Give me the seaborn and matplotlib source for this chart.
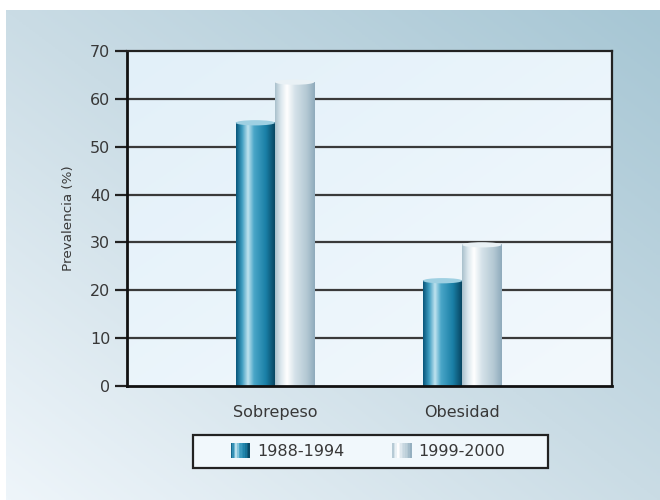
import numpy as np
import pandas as pd
import matplotlib
matplotlib.use("Agg")
import matplotlib.pyplot as plt
import seaborn as sns
from matplotlib.patches import Ellipse, Rectangle, Patch
from matplotlib.legend_handler import HandlerBase
from matplotlib.colors import LinearSegmentedColormap

# ---- data ----
categorias = ["Sobrepeso", "Obesidad"]
periodos = ["1988-1994", "1999-2000"]
valores_1988_1994 = [55.0, 22.0]
valores_1999_2000 = [63.5, 29.5]
y_ticks = [0, 10, 20, 30, 40, 50, 60, 70]
y_label = "Prevalencia (%)"

df = pd.DataFrame({
    "categoria": categorias * 2,
    "periodo": [periodos[0]] * 2 + [periodos[1]] * 2,
    "valor": valores_1988_1994 + valores_1999_2000,
})

sns.set_theme(style="white")
plt.rcParams["font.family"] = ["DejaVu Sans"]
txt = "#383838"

# cylinder colour maps (left -> right across bar)
cmap_dark = LinearSegmentedColormap.from_list("dk", [
    (0.0, "#07557a"), (0.15, "#3d9cc0"), (0.30, "#bfe3ef"), (0.45, "#4aa6c8"),
    (0.75, "#1a7fa6"), (1.0, "#063f5a")])
cmap_light = LinearSegmentedColormap.from_list("lt", [
    (0.0, "#a9c0cc"), (0.15, "#dce8ee"), (0.30, "#ffffff"), (0.50, "#d5e2e9"),
    (0.80, "#b3c8d3"), (1.0, "#8eaabb")])
cmaps = {periodos[0]: cmap_dark, periodos[1]: cmap_light}
tops = {periodos[0]: "#9fd0e2", periodos[1]: "#e9f1f5"}

fig = plt.figure(figsize=(6.6, 5.0), dpi=100)
fig.patch.set_facecolor("white")

# background panel gradient
bg = fig.add_axes([6 / 660, 0, 1 - 6 / 660, 1 - 10 / 500])
bg.set_axis_off()
xx, yy = np.meshgrid(np.linspace(0, 1, 200), np.linspace(0, 1, 200))
v = np.clip(0.5 * xx + 0.5 * (1 - yy), 0, 1)
bg_cmap = LinearSegmentedColormap.from_list("bg", ["#eef5fa", "#cadce5", "#a6c6d4"])
bg.imshow(v, cmap=bg_cmap, aspect="auto", extent=[0, 1, 0, 1], origin="upper")
bg.set_xlim(0, 1)
bg.set_ylim(0, 1)

ax = fig.add_axes([127 / 660, 114 / 500, 485 / 660, 335 / 500])
ax.set_facecolor("none")
pv = np.clip(0.5 * xx + 0.5 * yy, 0, 1)
face_cmap = LinearSegmentedColormap.from_list("fc", ["#e2f0f9", "#f3f9fd"])
ax.imshow(pv, cmap=face_cmap, aspect="auto", extent=[0, 1, 0, 1],
          transform=ax.transAxes, origin="upper", zorder=-5)

sns.barplot(data=df, x="categoria", y="valor", hue="periodo", hue_order=periodos,
            order=categorias, width=0.42, palette=["#1a7fa6", "#c8d8e0"],
            ax=ax, legend=False, saturation=1)

ax.set_xlim(-0.79, 1.80)
ax.set_ylim(0, 70)
ax.set_yticks(y_ticks)
for yv in y_ticks[1:-1]:
    ax.axhline(yv, color="#3a3a3a", lw=1.6, zorder=1)

grad = np.linspace(0, 1, 256).reshape(1, -1)
ell_h = 1.1
for container, per in zip(ax.containers, periodos):
    for bar in container:
        x0, y0 = bar.get_x(), bar.get_y()
        w, h = bar.get_width(), bar.get_height()
        bar.set_visible(False)
        ax.imshow(grad, cmap=cmaps[per], aspect="auto",
                  extent=[x0, x0 + w, y0, y0 + h], zorder=3)
        ax.add_patch(Ellipse((x0 + w / 2, y0 + h), w, ell_h,
                             facecolor=tops[per], edgecolor="none", zorder=4))
ax.set_xlim(-0.79, 1.80)
ax.set_ylim(0, 70)

for s in ["top", "right"]:
    ax.spines[s].set_color("#222222")
    ax.spines[s].set_linewidth(1.6)
for s in ["left", "bottom"]:
    ax.spines[s].set_color("#111111")
    ax.spines[s].set_linewidth(2.0)
for s in ax.spines.values():
    s.set_zorder(6)

ax.tick_params(axis="y", direction="out", length=9, width=1.6, color="#222222",
               labelsize=11.5, labelcolor=txt, pad=3, left=True)
ax.tick_params(axis="x", length=0, labelsize=11.5, labelcolor=txt, pad=14)
ax.set_xlabel("")
ax.set_ylabel(y_label, fontsize=9.7, color=txt, labelpad=11)


class CylHandler(HandlerBase):
    def __init__(self, cmap):
        super().__init__()
        self.cmap = cmap

    def create_artists(self, legend, orig_handle, xdescent, ydescent, width,
                       height, fontsize, trans):
        arts = []
        n = 12
        hw = width
        for i in range(n):
            c = self.cmap((i + 0.5) / n)
            r = Rectangle((-xdescent + i * hw / n, -ydescent - 1.5),
                          hw / n + 0.3, height + 3, facecolor=c, edgecolor="none",
                          transform=trans)
            arts.append(r)
        return arts


# legend frame box
fig.patches.append(Rectangle((193 / 660, 32 / 500), 355 / 660, 33 / 500,
                             transform=fig.transFigure, facecolor="#f1f8fc",
                             edgecolor="#222222", linewidth=1.6, zorder=5))

handles = [Patch(label=periodos[0]), Patch(label=periodos[1])]
leg = fig.legend(handles=handles, labels=periodos, ncol=2, loc="center",
                 bbox_to_anchor=(368 / 660, 48.5 / 500), frameon=False,
                 fontsize=11.5, handlelength=1.2, handletextpad=0.45,
                 columnspacing=3.0, borderpad=0.3,
                 handler_map={handles[0]: CylHandler(cmap_dark),
                              handles[1]: CylHandler(cmap_light)})
leg.set_zorder(6)
for t in leg.get_texts():
    t.set_color(txt)

fig.savefig("out.png", dpi=100, facecolor=fig.get_facecolor())
